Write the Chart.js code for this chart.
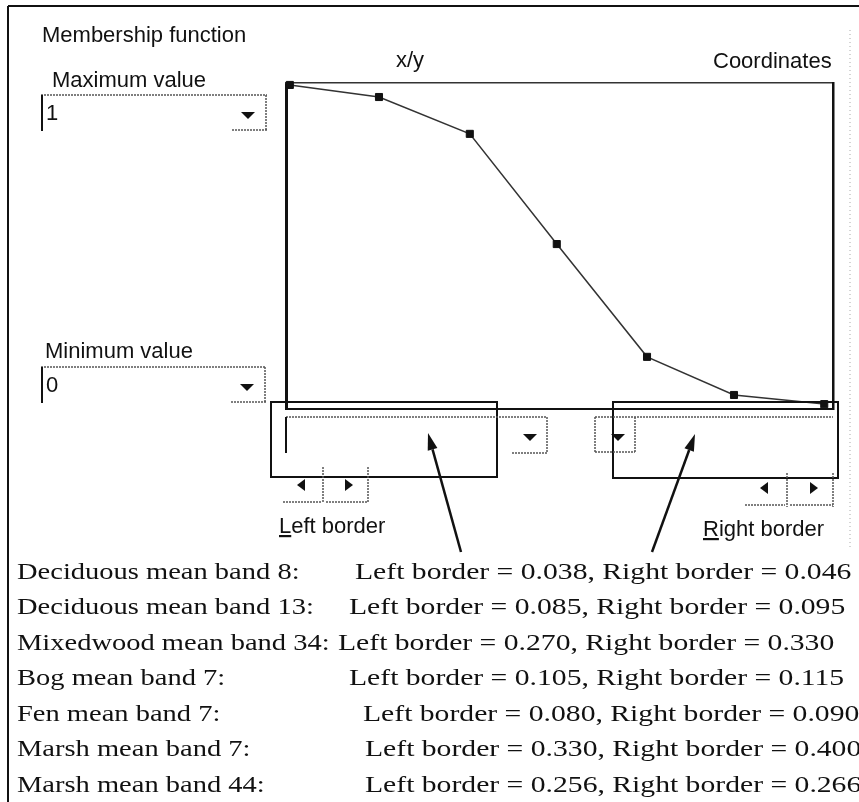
<!DOCTYPE html>
<html>
<head>
<meta charset="utf-8">
<script src="https://cdn.jsdelivr.net/npm/chart.js@4.4.1/dist/chart.umd.min.js"></script>
<style>
  html, body { margin: 0; padding: 0; background: #fff; }
  #page { position: relative; width: 859px; height: 802px; overflow: hidden; background: #fff; }
  #plot { position: absolute; left: 270px; top: 70px; width: 580px; height: 350px; }
  #ui { position: absolute; left: 0; top: 0; }
  .sans { font-family: "Liberation Sans", Arial, sans-serif; font-size: 22px; fill: #111; }
  .serif { font-family: "Liberation Serif", "Times New Roman", serif; font-size: 23px; fill: #111; }
</style>
</head>
<body>
<div id="page">
  <div id="plot"><canvas id="mf" width="580" height="350"></canvas></div>
  <svg id="ui" width="859" height="802" xmlns="http://www.w3.org/2000/svg"></svg>
</div>
<script>
// membership function points (x / y, both 0..1)
const xValues = [0.007, 0.170, 0.336, 0.495, 0.660, 0.819, 0.984];
const yValues = [0.994, 0.957, 0.844, 0.506, 0.160, 0.043, 0.015];

const maxValue = '1';
const minValue = '0';

// table under the dialog
const classNames = [
  'Deciduous mean band 8:',
  'Deciduous mean band 13:',
  'Mixedwood mean band 34:',
  'Bog mean band 7:',
  'Fen mean band 7:',
  'Marsh mean band 7:',
  'Marsh mean band 44:'
];
const leftBorders = ['0.038', '0.085', '0.270', '0.105', '0.080', '0.330', '0.256'];
const rightBorders = ['0.046', '0.095', '0.330', '0.115', '0.090', '0.400', '0.266'];

new Chart(document.getElementById('mf'), {
  type: 'line',
  data: {
    datasets: [{
      data: xValues.map((x, i) => ({ x, y: yValues[i] })),
      borderColor: '#333',
      borderWidth: 1.5,
      tension: 0,
      pointStyle: 'rect',
      pointRadius: 5,
      pointBackgroundColor: '#111',
      pointBorderColor: '#111',
      pointBorderWidth: 1,
      clip: false
    }]
  },
  options: {
    responsive: false,
    animation: false,
    devicePixelRatio: 1,
    layout: { autoPadding: false, padding: { left: 16, right: 17, top: 13, bottom: 11 } },
    plugins: { legend: { display: false }, tooltip: { enabled: false } },
    scales: {
      x: {
        type: 'linear', position: 'bottom', min: 0, max: 1,
        ticks: { display: false }, grid: { display: false, drawTicks: false },
        border: { color: '#111', width: 2, dash: [14, 3] }
      },
      y: {
        type: 'linear', position: 'left', min: 0, max: 1,
        ticks: { display: false }, grid: { display: false, drawTicks: false },
        border: { color: '#111', width: 3, dash: [8, 2] }
      },
      x2: {
        type: 'linear', position: 'top', min: 0, max: 1,
        ticks: { display: false }, grid: { display: false, drawTicks: false },
        border: { color: '#333', width: 1.5 }
      },
      y2: {
        type: 'linear', position: 'right', min: 0, max: 1,
        ticks: { display: false }, grid: { display: false, drawTicks: false },
        border: { color: '#111', width: 2.5 }
      }
    }
  }
});

// dialog chrome around the chart
let s = '';
const solid = w => `stroke:#111;stroke-width:${w}`;
const dotted = 'stroke:#555;stroke-width:1.5;stroke-dasharray:2 1';
const ln = (x1, y1, x2, y2, st) => { s += `<line x1="${x1}" y1="${y1}" x2="${x2}" y2="${y2}" style="${st}"/>`; };
const tri = pts => { s += `<polygon points="${pts}" fill="#111"/>`; };
const txt = (x, y, t, cls, extra = '') => { s += `<text x="${x}" y="${y}" class="${cls}" ${extra}>${t}</text>`; };

function dropdown(x, y, w, h, value) {
  ln(x, y + 1, x + w, y + 1, dotted);
  ln(x + 1, y + 1, x + 1, y + h, solid(2));
  ln(x + w - 1, y + 1, x + w - 1, y + h, dotted);
  ln(x + w - 35, y + h - 1, x + w, y + h - 1, dotted);
  tri(`${x + w - 26},${y + 18} ${x + w - 12},${y + 18} ${x + w - 19},${y + 25}`);
  txt(x + 5, y + 26, value, 'sans');
}

function arrow(x1, y1, x2, y2) {
  const len = Math.hypot(x2 - x1, y2 - y1);
  const dx = (x2 - x1) / len, dy = (y2 - y1) / len;
  const bx = x2 - 17 * dx, by = y2 - 17 * dy;
  ln(x1, y1, bx, by, solid(2.5));
  tri(`${x2},${y2} ${bx - 5 * dy},${by + 5 * dx} ${bx + 5 * dy},${by - 5 * dx}`);
}

// frame
ln(8, 6, 859, 6, solid(2));
ln(8, 6, 8, 802, solid(2));
ln(850, 30, 850, 548, 'stroke:#aaa;stroke-width:1;stroke-dasharray:1 3');

txt(42, 42, 'Membership function', 'sans');
txt(52, 87, 'Maximum value', 'sans');
txt(45, 358, 'Minimum value', 'sans');
txt(396, 67, 'x/y', 'sans');
txt(713, 68, 'Coordinates', 'sans');

dropdown(41, 94, 226, 37, maxValue);
dropdown(41, 366, 225, 37, minValue);

// left border box
s += '<rect x="271" y="402" width="226" height="75" fill="none" stroke="#111" stroke-width="2"/>';
ln(286, 417, 547, 417, dotted);
ln(286, 417, 286, 453, solid(2));
ln(547, 417, 547, 453, dotted);
ln(512, 453, 547, 453, dotted);
tri('523,434 537,434 530,441');
tri('297,485 305,479 305,491');
tri('353,485 345,479 345,491');
ln(323, 467, 323, 502, dotted);
ln(368, 467, 368, 502, dotted);
ln(283, 502, 321, 502, dotted);
ln(326, 502, 368, 502, dotted);
txt(279, 533, '<tspan text-decoration="underline">L</tspan>eft border', 'sans');

// right border box
s += '<rect x="613" y="402" width="225" height="76" fill="none" stroke="#111" stroke-width="2"/>';
ln(595, 417, 833, 417, dotted);
ln(595, 417, 595, 452, dotted);
ln(635, 417, 635, 452, dotted);
ln(595, 452, 635, 452, dotted);
tri('611,434 625,434 618,441');
tri('760,488 768,482 768,494');
tri('818,488 810,482 810,494');
ln(787, 473, 787, 507, dotted);
ln(833, 473, 833, 507, dotted);
ln(745, 505, 785, 505, dotted);
ln(790, 505, 833, 505, dotted);
txt(703, 536, '<tspan text-decoration="underline">R</tspan>ight border', 'sans');

arrow(461, 552, 428, 433);
arrow(652, 552, 695, 434);

// table rows (wide serif face, stretched horizontally)
const colX = [355, 349, 338, 349, 363, 365, 365];
const k1 = 1.24, k2 = 1.29;
classNames.forEach((name, i) => {
  const y = 579 + 35.5 * i;
  s += `<g transform="scale(${k1},1)">`;
  txt(17 / k1, y, name, 'serif');
  s += '</g>';
  s += `<g transform="scale(${k2},1)">`;
  txt(colX[i] / k2, y, `Left border = ${leftBorders[i]}, Right border = ${rightBorders[i]}`, 'serif');
  s += '</g>';
});

document.getElementById('ui').innerHTML = s;
</script>
</body>
</html>
